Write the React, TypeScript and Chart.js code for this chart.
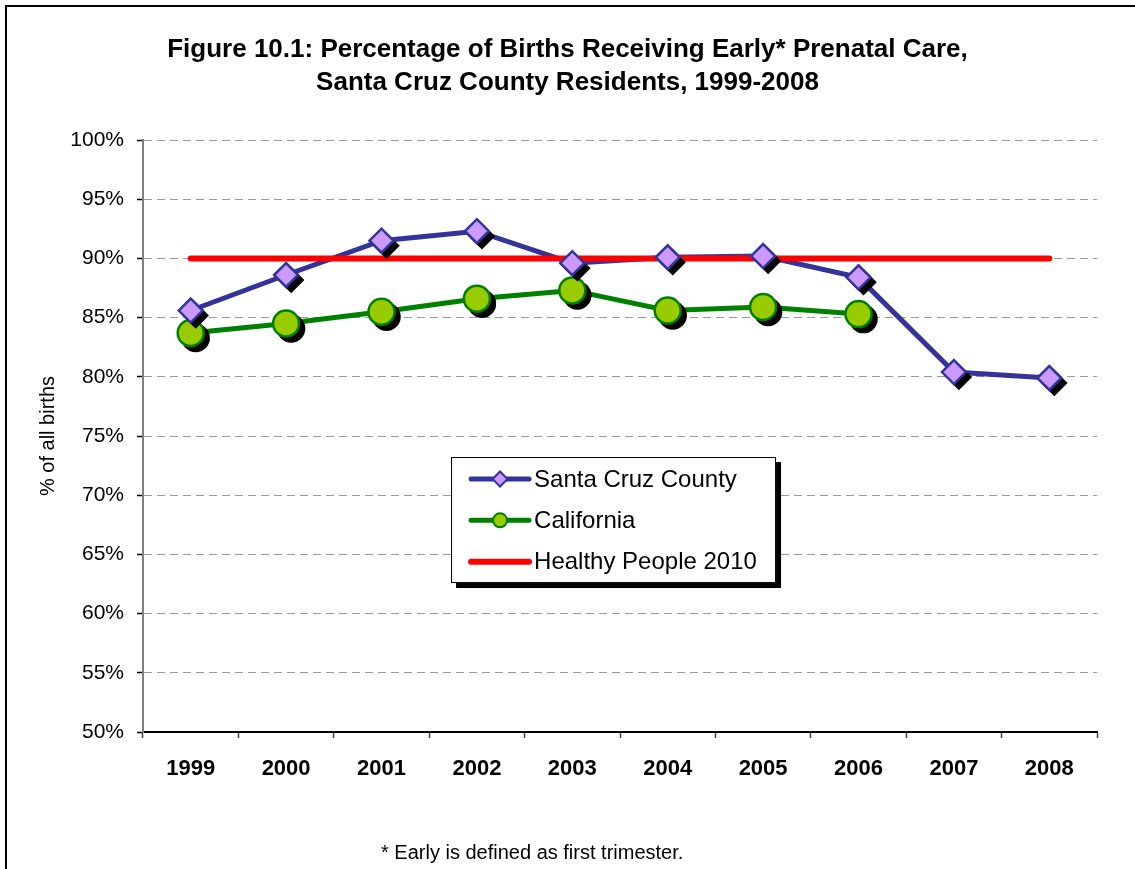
import React, { useEffect, useRef } from 'react';
import { Chart, registerables } from 'chart.js';

Chart.register(...registerables);

const years = ['1999', '2000', '2001', '2002', '2003', '2004', '2005', '2006', '2007', '2008'];
const santaCruz = [85.6, 88.6, 91.5, 92.3, 89.6, 90.1, 90.2, 88.4, 80.4, 79.9];
const california = [83.7, 84.5, 85.5, 86.6, 87.3, 85.6, 85.9, 85.3, null, null];
const healthyPeople2010 = [90, 90, 90, 90, 90, 90, 90, 90, 90, 90];
const yTickValues = [50, 55, 60, 65, 70, 75, 80, 85, 90, 95, 100];

const titleLines = [
  'Figure 10.1: Percentage of Births Receiving Early* Prenatal Care,',
  'Santa Cruz County Residents, 1999-2008',
];
const yAxisTitle = '% of all births';
const footnote = '* Early is defined as first trimester.';

const FONT = 'Arial, "Liberation Sans", Helvetica, sans-serif';

const BLUE = '#333399';
const LAVENDER = '#CC99FF';
const GREEN = '#008000';
const LIME = '#99CC00';
const RED = '#FF0000';

// Draws a solid black drop shadow under each point of datasets flagged castShadow
const pointShadow = {
  id: 'pointShadow',
  beforeDatasetDraw(chart: any, args: any) {
    const ds = chart.data.datasets[args.index];
    if (!ds.castShadow) return;
    const ctx = chart.ctx;
    const meta = args.meta;
    const off = 5;
    const r = ds.pointRadius + ds.pointBorderWidth / 2;
    ctx.save();
    ctx.fillStyle = '#000';
    meta.data.forEach((el: any) => {
      if (el.skip) return;
      const x = el.x + off;
      const y = el.y + off;
      ctx.beginPath();
      if (ds.pointStyle === 'rectRot') {
        ctx.moveTo(x - r, y);
        ctx.lineTo(x, y - r);
        ctx.lineTo(x + r, y);
        ctx.lineTo(x, y + r);
        ctx.closePath();
      } else {
        ctx.arc(x, y, r, 0, Math.PI * 2);
      }
      ctx.fill();
    });
    ctx.restore();
  },
};

const boxLegend = {
  id: 'boxLegend',
  afterDraw(chart: any) {
    const ctx = chart.ctx;
    const area = chart.chartArea;
    const w = 325;
    const h = 126;
    const x = area.left + (area.right - area.left) * 0.3229;
    const y = area.top + (area.bottom - area.top) * 0.5355;
    ctx.save();
    ctx.fillStyle = '#000';
    ctx.fillRect(x + 5, y + 5, w, h);
    ctx.fillStyle = '#fff';
    ctx.fillRect(x, y, w, h);
    ctx.strokeStyle = '#000';
    ctx.lineWidth = 1;
    ctx.strokeRect(x + 0.5, y + 0.5, w - 1, h - 1);

    const items = chart.data.datasets.filter((d: any) => d.legendMarker);
    items.sort((a: any, b: any) => a.legendIndex - b.legendIndex);
    items.forEach((d: any, i: number) => {
      const cy = y + 22 + i * 41.3;
      const x1 = x + 20;
      const x2 = x + 78;
      const cx = (x1 + x2) / 2;
      ctx.beginPath();
      ctx.strokeStyle = d.borderColor;
      ctx.lineWidth = d.borderWidth;
      ctx.lineCap = 'round';
      ctx.moveTo(x1, cy);
      ctx.lineTo(x2, cy);
      ctx.stroke();
      if (d.legendMarker === 'diamond') {
        const r = 7.5;
        ctx.beginPath();
        ctx.moveTo(cx - r, cy);
        ctx.lineTo(cx, cy - r);
        ctx.lineTo(cx + r, cy);
        ctx.lineTo(cx, cy + r);
        ctx.closePath();
        ctx.fillStyle = LAVENDER;
        ctx.fill();
        ctx.lineWidth = 2;
        ctx.strokeStyle = BLUE;
        ctx.stroke();
      } else if (d.legendMarker === 'circle') {
        ctx.beginPath();
        ctx.arc(cx, cy, 7, 0, Math.PI * 2);
        ctx.fillStyle = LIME;
        ctx.fill();
        ctx.lineWidth = 2;
        ctx.strokeStyle = GREEN;
        ctx.stroke();
      }
      ctx.fillStyle = '#000';
      ctx.font = `24px ${FONT}`;
      ctx.textBaseline = 'middle';
      ctx.textAlign = 'left';
      ctx.fillText(d.label, x + 83, cy + 1);
    });
    ctx.restore();
  },
};

export default function App() {
  const canvasRef = useRef<HTMLCanvasElement | null>(null);

  useEffect(() => {
    const canvas = canvasRef.current;
    if (!canvas) return;
    const chart = new Chart(canvas, {
      type: 'line',
      data: {
        labels: years,
        datasets: [
          {
            label: 'Santa Cruz County',
            data: santaCruz,
            borderColor: BLUE,
            borderWidth: 5,
            pointRadius: 0,
            fill: false,
            tension: 0,
            order: 5,
            legendMarker: 'diamond',
            legendIndex: 0,
          } as any,
          {
            label: 'California',
            data: california,
            borderColor: GREEN,
            borderWidth: 5,
            pointRadius: 0,
            fill: false,
            tension: 0,
            order: 4,
            legendMarker: 'circle',
            legendIndex: 1,
          } as any,
          {
            label: 'Healthy People 2010',
            data: healthyPeople2010,
            borderColor: RED,
            borderWidth: 6,
            borderCapStyle: 'round',
            pointRadius: 0,
            fill: false,
            tension: 0,
            order: 3,
            legendMarker: 'line',
            legendIndex: 2,
          } as any,
          {
            label: 'California points',
            data: california,
            showLine: false,
            pointStyle: 'circle',
            pointRadius: 13,
            pointBackgroundColor: LIME,
            pointBorderColor: GREEN,
            pointBorderWidth: 2.5,
            order: 2,
            castShadow: true,
          } as any,
          {
            label: 'Santa Cruz points',
            data: santaCruz,
            showLine: false,
            pointStyle: 'rectRot',
            pointRadius: 12,
            pointBackgroundColor: LAVENDER,
            pointBorderColor: BLUE,
            pointBorderWidth: 2.5,
            order: 1,
            castShadow: true,
          } as any,
        ],
      },
      options: {
        responsive: false,
        animation: false,
        layout: { padding: { left: 0, right: 0, top: 0, bottom: 0 } },
        plugins: {
          legend: { display: false },
          tooltip: { enabled: false },
          title: {
            display: true,
            text: titleLines,
            color: '#000',
            font: { family: FONT, size: 26, weight: 'bold', lineHeight: 1.27 },
            padding: { top: 33, bottom: 41 },
          },
        },
        scales: {
          x: {
            type: 'category',
            offset: true,
            grid: {
              display: true,
              drawOnChartArea: false,
              drawTicks: true,
              tickLength: 6,
              offset: true,
              tickColor: '#444',
              tickWidth: 1.5,
            },
            border: { display: true, color: '#000', width: 2 },
            ticks: {
              color: '#000',
              font: { family: FONT, size: 22, weight: 'bold' },
              padding: 18,
              maxRotation: 0,
              autoSkip: false,
            },
            afterFit: (s: any) => {
              s.height = 137;
            },
          },
          y: {
            type: 'linear',
            min: 50,
            max: 100,
            afterBuildTicks: (s: any) => {
              s.ticks = yTickValues.map((v) => ({ value: v }));
            },
            ticks: {
              color: '#000',
              font: { family: FONT, size: 21 },
              padding: 13,
              callback: (v: any) => `${v}%`,
            },
            grid: {
              color: (c: any) => (c.tick && c.tick.value === 50 ? 'rgba(0,0,0,0)' : '#9a9a9a'),
              lineWidth: 1,
              drawTicks: true,
              tickLength: 6,
              tickColor: '#000',
              tickWidth: 1.5,
            },
            border: { display: true, color: '#808080', width: 2, dash: [8, 5] },
            title: {
              display: true,
              text: yAxisTitle,
              color: '#000',
              font: { family: FONT, size: 20 },
              padding: { top: 36, bottom: 0 },
            },
            afterFit: (s: any) => {
              s.width = 143;
            },
          },
          spacer: {
            type: 'linear',
            position: 'right',
            display: true,
            grid: { display: false, drawTicks: false },
            border: { display: false },
            ticks: { display: false },
            afterFit: (s: any) => {
              s.width = 38;
            },
          },
        },
      } as any,
      plugins: [pointShadow, boxLegend],
    });
    return () => chart.destroy();
  }, []);

  return (
    <div
      style={{
        position: 'fixed',
        left: 0,
        top: 0,
        width: 1135,
        height: 869,
        overflow: 'hidden',
        background: '#fff',
      }}
    >
      <canvas
        ref={canvasRef}
        width={1135}
        height={869}
        style={{ position: 'absolute', left: 0, top: 0, width: 1135, height: 869 }}
      />
      <div
        style={{
          position: 'absolute',
          left: 5,
          top: 5,
          width: 1140,
          height: 900,
          borderLeft: '2px solid #000',
          borderTop: '2px solid #000',
          pointerEvents: 'none',
        }}
      />
      <div
        style={{
          position: 'absolute',
          left: 381,
          top: 842,
          font: `20px ${FONT}`,
          lineHeight: '20px',
          whiteSpace: 'nowrap',
          color: '#000',
        }}
      >
        {footnote}
      </div>
    </div>
  );
}
